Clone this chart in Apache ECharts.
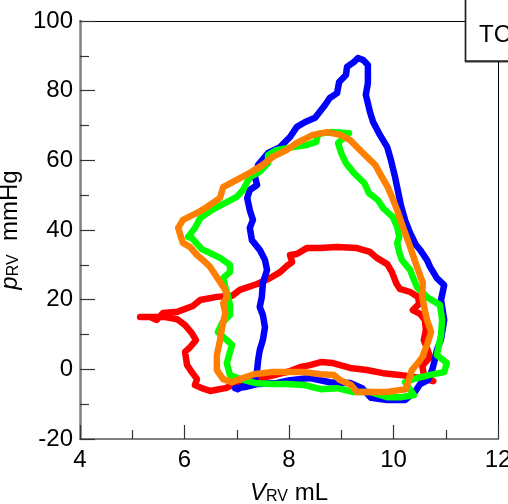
<!DOCTYPE html>
<html>
<head>
<meta charset="utf-8">
<script src="https://cdn.jsdelivr.net/npm/echarts@6/dist/echarts.min.js"></script>
<style>html,body{margin:0;padding:0;background:#fff;}#c{width:508px;height:504px;}</style>
</head>
<body>
<div id="c"></div>
<script>
const xTicks = [4, 6, 8, 10, 12];
const yTicks = [-20, 0, 20, 40, 60, 80, 100];
const legendText = 'TC';

const blueV = [6.97,7.16,7.41,7.77,8.02,8.40,8.78,9.17,9.40,9.57,9.88,10.22,10.41,10.51,10.66,10.74,10.78,10.83,10.91,10.97,10.91,10.97,10.83,10.70,10.64,10.51,10.43,10.32,10.22,10.14,10.09,10.03,9.95,9.88,9.74,9.61,9.55,9.47,9.51,9.51,9.42,9.32,9.24,9.11,9.09,8.96,8.92,8.78,8.69,8.50,8.31,8.15,8.02,7.83,7.60,7.41,7.35,7.39,7.25,7.20,7.25,7.31,7.25,7.29,7.44,7.54,7.58,7.50,7.48,7.44,7.50,7.54,7.50,7.44,7.41,7.39,7.35,7.02];
const blueP = [-5.4,-5.1,-4.2,-3.9,-3.1,-2.5,-3.7,-3.9,-5.4,-8.2,-8.8,-8.8,-6.5,-4.2,-3.1,-0.2,2.1,5.5,8.7,14.2,19.9,24.2,26.2,29.4,31.4,34.3,35.7,39.1,42.9,47.2,50.9,55.2,60.1,63.8,67.3,71.0,73.9,78.8,82.2,87.4,88.8,89.4,88.2,86.8,84.5,82.5,79.3,77.9,75.9,72.2,71.0,69.6,66.7,63.8,62.1,58.7,55.2,52.9,51.5,49.2,45.7,42.9,40.6,37.1,34.3,31.4,28.5,24.8,20.8,17.9,15.6,12.1,8.4,5.5,2.7,-0.2,-3.1,-5.7];

const greenV = [6.07,6.20,6.30,6.55,6.81,7.00,7.12,7.25,7.44,7.60,7.60,7.77,8.08,8.34,8.52,8.56,8.80,9.15,8.94,9.00,9.09,9.24,9.44,9.53,9.70,9.80,9.99,10.07,10.11,10.07,10.11,10.16,10.32,10.37,10.45,10.66,10.89,10.93,10.91,10.83,11.02,10.97,10.70,10.45,10.22,10.32,10.39,10.14,9.88,9.55,9.24,8.92,8.61,8.29,7.96,7.64,7.35,7.06,6.87,6.81,6.87,6.91,6.81,6.64,6.72,6.87,6.87,6.83,6.78,6.74,6.87,6.87,6.68,6.49,6.33,6.24,6.14,6.07];
const greenP = [38.0,40.6,43.4,46.0,48.0,49.5,51.5,55.2,56.7,59.2,61.5,63.0,63.8,64.4,65.3,67.6,68.1,67.8,65.0,62.1,59.2,56.4,53.5,50.6,48.6,46.3,43.7,40.9,38.0,36.3,33.7,31.4,28.5,26.5,23.6,20.5,18.5,14.2,9.9,4.1,1.8,-0.8,-1.6,-2.5,-3.7,-5.9,-7.4,-8.0,-8.0,-6.5,-6.5,-5.4,-5.7,-4.5,-4.2,-4.2,-3.9,-2.8,-1.6,1.8,5.0,7.0,8.4,10.7,13.3,15.6,18.5,21.3,23.6,26.2,27.9,30.0,32.0,33.4,34.5,36.0,37.7,38.0];

const orangeV = [5.88,5.97,6.24,6.43,6.68,6.74,7.00,7.25,7.50,7.69,7.96,8.15,8.46,8.73,8.98,9.17,9.30,9.51,9.65,9.78,9.89,9.97,10.07,10.18,10.32,10.45,10.56,10.55,10.60,10.64,10.72,10.64,10.55,10.45,10.35,10.30,10.24,10.14,9.88,9.57,9.30,9.19,8.98,8.86,8.61,8.29,7.96,7.66,7.33,7.06,6.91,6.74,6.62,6.62,6.68,6.72,6.78,6.74,6.81,6.78,6.68,6.49,6.35,6.24,6.11,5.97,5.91,5.88];
const orangeP = [40.6,42.9,44.9,46.6,49.2,52.3,54.4,56.4,58.7,61.0,63.0,65.0,67.3,68.1,67.3,65.8,63.8,60.7,58.7,55.2,52.3,49.5,45.7,40.9,35.1,29.4,24.8,20.8,17.0,14.2,10.7,7.0,3.5,1.5,-0.2,-2.8,-5.7,-5.9,-6.5,-6.5,-6.5,-4.5,-3.1,-1.6,-1.4,-0.8,-0.8,-0.8,-1.4,-2.8,-3.7,-2.8,-0.2,4.1,8.4,12.1,16.2,19.0,20.8,22.8,25.1,29.4,31.4,32.8,35.1,36.3,39.1,40.6];

const redV = [5.15,5.34,5.47,5.59,5.86,6.16,6.30,6.62,6.91,7.06,7.39,7.64,7.83,7.96,8.06,8.02,8.15,8.34,8.59,8.92,9.30,9.55,9.68,9.88,9.97,10.05,10.12,10.32,10.47,10.49,10.37,10.51,10.60,10.62,10.58,10.64,10.70,10.55,10.58,10.76,10.51,10.12,9.80,9.49,9.17,8.84,8.61,8.40,8.23,8.02,7.66,7.31,6.97,6.78,6.49,6.33,6.20,6.24,6.14,6.05,6.01,6.11,6.22,6.14,6.01,5.86,5.63,5.15];
const redP = [15.0,15.0,14.2,16.2,16.5,18.2,19.9,20.8,21.1,22.8,24.5,26.2,27.9,29.7,30.8,32.8,33.1,34.8,34.8,35.1,34.8,33.7,32.0,30.2,27.9,24.8,23.1,22.2,20.8,18.8,17.0,15.9,14.2,11.3,8.4,6.1,3.5,1.0,-1.4,-3.4,-2.5,-1.6,-1.1,-0.2,0.4,1.8,2.1,1.2,0.7,-0.5,-1.9,-3.1,-4.2,-5.4,-6.2,-5.4,-4.5,-2.8,-0.8,1.2,5.0,6.4,8.4,10.4,12.7,14.4,15.0,15.0];

function zip(a, b) {
  const n = Math.min(a.length, b.length);
  const out = [];
  for (let i = 0; i < n; i++) out.push([a[i], b[i]]);
  return out;
}

const FONT = 'Liberation Sans, Arial, sans-serif';

function loop(name, color, v, p) {
  return {
    name: name, type: 'line', data: zip(v, p),
    showSymbol: false, symbol: 'none', smooth: false, clip: false,
    lineStyle: { color: color, width: 6.5, cap: 'round', join: 'round' },
    emphasis: { disabled: true }, silent: true
  };
}

const nameRich = {
  i: { fontFamily: FONT, fontSize: 24, fontStyle: 'italic', color: '#000', verticalAlign: 'bottom', lineHeight: 30 },
  sub: { fontFamily: FONT, fontSize: 16, color: '#000', verticalAlign: 'bottom', lineHeight: 24 },
  n: { fontFamily: FONT, fontSize: 24, color: '#000', verticalAlign: 'bottom', lineHeight: 30 }
};

const chart = echarts.init(document.getElementById('c'), null, { renderer: 'canvas' });
chart.setOption({
  animation: false,
  backgroundColor: '#fff',
  grid: { left: 80, top: 21, width: 418, height: 418, containLabel: false, outerBoundsMode: 'none' },
  xAxis: [{
    type: 'value', min: xTicks[0], max: xTicks[xTicks.length - 1], interval: 2,
    position: 'bottom',
    name: '{i|V}{sub|RV}{n| mL}', nameLocation: 'middle', nameGap: 36,
    nameTextStyle: { rich: nameRich },
    axisLine: { show: true, onZero: false, lineStyle: { color: '#555', width: 1.5 } },
    axisTick: { show: true, inside: true, length: 14, lineStyle: { color: '#333', width: 1.2 } },
    minorTick: { show: true, splitNumber: 2, length: 9, lineStyle: { color: '#333', width: 1.2 } },
    splitLine: { show: false },
    axisLabel: { margin: 9, fontFamily: FONT, fontSize: 24, color: '#000', showMaxLabel: true, showMinLabel: true, hideOverlap: false }
  }, {
    type: 'value', min: xTicks[0], max: xTicks[xTicks.length - 1], position: 'top',
    axisLine: { show: true, onZero: false, lineStyle: { color: '#000', width: 1 } },
    axisTick: { show: false }, axisLabel: { show: false }, splitLine: { show: false }
  }],
  yAxis: [{
    type: 'value', min: yTicks[0], max: yTicks[yTicks.length - 1], interval: 20,
    position: 'left',
    name: '{i|p}{sub|RV}{n|  mmHg}', nameLocation: 'middle', nameGap: 44, nameRotate: 90,
    nameTextStyle: { rich: nameRich },
    axisLine: { show: true, onZero: false, lineStyle: { color: '#808080', width: 2.5 } },
    axisTick: { show: true, inside: true, length: 15, lineStyle: { color: '#333', width: 1.2 } },
    minorTick: { show: true, splitNumber: 2, length: 9, lineStyle: { color: '#333', width: 1.2 } },
    splitLine: { show: false },
    axisLabel: { margin: 7, fontFamily: FONT, fontSize: 24, color: '#000', hideOverlap: false }
  }, {
    type: 'value', min: yTicks[0], max: yTicks[yTicks.length - 1], position: 'right',
    axisLine: { show: true, onZero: false, lineStyle: { color: '#000', width: 1 } },
    axisTick: { show: false }, axisLabel: { show: false }, splitLine: { show: false }
  }],
  series: [
    loop('red', '#ff0000', redV, redP),
    loop('blue', '#0000ff', blueV, blueP),
    loop('green', '#00ff00', greenV, greenP),
    loop('orange', '#ff8000', orangeV, orangeP)
  ],
  graphic: [{
    type: 'rect', z: 100,
    shape: { x: 465.5, y: -5, width: 60, height: 66 },
    style: { fill: '#fff', stroke: '#222', lineWidth: 1.5, shadowColor: 'rgba(0,0,0,0.5)', shadowOffsetX: 0, shadowOffsetY: 1, shadowBlur: 0 }
  }, {
    type: 'text', z: 101, x: 479, y: 35.5,
    style: { text: legendText, fontFamily: FONT, fontSize: 24, fill: '#000', verticalAlign: 'middle', align: 'left' }
  }]
});
</script>
</body>
</html>
